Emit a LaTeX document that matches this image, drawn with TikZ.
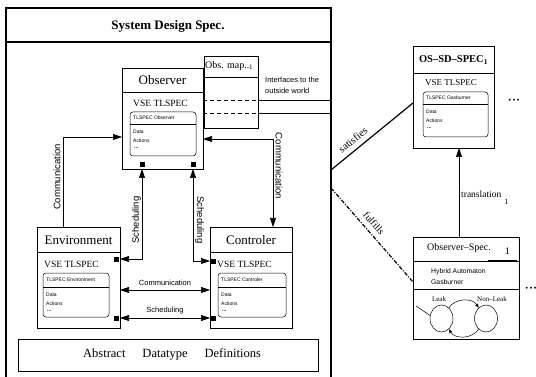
\documentclass[tikz,border=0pt]{standalone}
\usepackage{fontspec}
\setmainfont{Liberation Serif}
\setsansfont{Liberation Sans}
\usetikzlibrary{arrows.meta,shapes.geometric,calc}

\tikzset{
  boxline/.style={draw, line width=0.6pt, inner sep=0pt, outer sep=0pt},
  innerbox/.style={draw, line width=0.5pt, rounded corners=3pt, inner sep=0pt, outer sep=0pt},
  sq/.style={fill=black, minimum size=5pt, inner sep=0pt, outer sep=0pt},
  tip/.style={line width=0.6pt, -{Triangle[length=9pt,width=6pt]}},
  tips/.style={line width=0.6pt, {Triangle[length=9pt,width=6pt]}-{Triangle[length=9pt,width=6pt]}},
  smalltip/.style={line width=0.5pt, -{Triangle[length=4pt,width=3pt]}},
  boxtitle/.style={font=\fontsize{13}{15}\selectfont, inner sep=0pt},
  vse/.style={font=\fontsize{9.5}{11}\selectfont, anchor=west, inner sep=0pt},
  tinytext/.style={font=\sffamily\fontsize{5}{6}\selectfont, anchor=west, inner sep=0pt},
  lab/.style={font=\sffamily\fontsize{7.5}{9}\selectfont, inner sep=0pt},
  vlab/.style={font=\sffamily\fontsize{9.5}{11}\selectfont, inner sep=0pt},
  moredots/.style={font=\sffamily\fontsize{7}{8}\selectfont, inner sep=0pt},
}

% rectangle node given by its corners
\newcommand\mkbox[6][]{%
  \node[#1, minimum width={#5-#3}, minimum height={#6-#4}] (#2) at ({(#3+#5)/2},{(#4+#6)/2}) {};}
% horizontal separator across a box
\newcommand\hsep[3][line width=0.6pt]{%
  \draw[#1] (#2.west |- 0,#3) -- (#2.east |- 0,#3);}
% rounded TLSPEC block with header, Data, Actions, ...
\newcommand\tlspec[7]{%
  \mkbox[innerbox]{#1}{#2}{#3}{#4}{#5}
  \hsep[line width=0.5pt]{#1}{#6}
  \node[tinytext] (#1-h) at (#2+3,{(#3+#6)/2}) {#7};
  \node[tinytext] (#1-d) at (#2+3,#6+7.5) {Data};
  \node[tinytext] (#1-a) at (#2+3,#6+16.5) {Actions};
  \node[tinytext] (#1-e) at (#2+4,#6+24.5) {\bfseries ...};}
\newcommand\threedots{\textbullet\hspace{1.6pt}\textbullet\hspace{1.6pt}\textbullet}

\begin{document}
\begin{tikzpicture}[x=1pt,y=-1pt]
\useasboundingbox (0,0) rectangle (536,377);

% ---- System design specification frame
\node[inner sep=0pt, outer sep=0pt, minimum width=325, minimum height=372] (sys) at (168.5,194) {};
\draw[line width=1.2pt] (sys.south west) -- (sys.north west) -- (sys.north east) -- (sys.south east);
\draw[line width=1.2pt] (sys.west |- 0,42) -- (sys.east |- 0,42);
\node[font=\bfseries\fontsize{13}{15}\selectfont, inner sep=0pt] (systitle) at (168,26) {System Design Spec.};

% ---- Observation map
\mkbox[boxline]{omap}{204}{56}{258}{128}
\hsep{omap}{77}
\node[font=\fontsize{10}{12}\selectfont, anchor=west, inner sep=0pt] (omapT) at (205,66) {Obs. map.\textsubscript{-1}};

% ---- Observer
\mkbox[boxline, fill=white]{obs}{122}{68}{203}{169}
\hsep{obs}{92}
\node[boxtitle] (obsT) at (162.5,80) {Observer};
\node[vse] (obsV) at (133,103) {VSE TLSPEC};
\tlspec{obsIn}{130}{112}{196}{156}{124}{TLSPEC Observer}

% ---- interfaces to the outside world
\coordinate (if1) at (300,100);
\coordinate (if2) at (300,113);
\draw[line width=0.6pt, dash pattern=on 4pt off 3pt] (obs.east |- if1) -- (omap.east |- if1);
\draw[line width=0.6pt, dash pattern=on 4pt off 3pt] (obs.east |- if2) -- (omap.east |- if2);
\draw[line width=0.6pt] (omap.east |- if1) -- (sys.east |- if1);
\draw[line width=0.6pt] (omap.east |- if2) -- (sys.east |- if2);
\node[lab, anchor=west, align=left, font=\sffamily\fontsize{7.5}{11}\selectfont] (ifT) at (265,85.5) {Interfaces to the\\outside world};

% ---- Environment
\mkbox[boxline]{env}{37}{227}{120}{328}
\hsep{env}{252}
\node[boxtitle] (envT) at (78.5,240.5) {Environment};
\node[vse] (envV) at (44,264) {VSE TLSPEC};
\tlspec{envIn}{43}{273}{109}{317}{287}{TLSPEC Environment}

% ---- Controler
\mkbox[boxline]{ctl}{210}{227}{292}{328}
\hsep{ctl}{252}
\node[boxtitle] (ctlT) at (251,240.5) {Controler};
\node[vse] (ctlV) at (217,264) {VSE TLSPEC};
\tlspec{ctlIn}{218}{273}{286}{317}{287}{TLSPEC Controler}

% ---- communication links
\coordinate (cL) at (63,137);
\draw[tip] (cL |- env.north) -- (cL) -- (cL -| obs.west);
\node[vlab, rotate=90] (cLl) at (57,177) {Communication};
\coordinate (cR) at (273,139);
\draw[tips] (cR -| obs.east) -- (cR) -- (cR |- ctl.north);
\node[vlab, rotate=-90] (cRl) at (279,166) {Communication};

% ---- scheduling links
\coordinate (kL) at (142,259);
\coordinate (kR) at (193,261);
\draw[tips] (kL |- obs.south) -- (kL) -- (kL -| env.east);
\draw[tips] (kR |- obs.south) -- (kR) -- (kR -| ctl.west);
\node[vlab, rotate=90] (kLl) at (136.5,220) {Scheduling};
\node[vlab, rotate=-90] (kRl) at (199.5,220) {Scheduling};

\coordinate (bc) at (165,290);
\coordinate (bs) at (165,318);
\draw[tips] (bc -| env.east) -- (bc -| ctl.west);
\draw[tips] (bs -| env.east) -- (bs -| ctl.west);
\node[lab] (bcl) at (165,283) {Communication};
\node[lab] (bsl) at (165,311) {Scheduling};

% ---- scheduling ports
\node[sq, anchor=south, yshift=1.5pt] (sqO1) at (kL |- obs.south) {};
\node[sq, anchor=south, yshift=1.5pt] (sqO2) at (kR |- obs.south) {};
\node[sq, anchor=east, xshift=-1pt] (sqE1) at (kL -| env.east) {};
\node[sq, anchor=east, xshift=-1pt] (sqE2) at (bs -| env.east) {};
\node[sq, anchor=west, xshift=1pt] (sqC1) at (kR -| ctl.west) {};
\node[sq, anchor=west, xshift=1pt] (sqC2) at (bs -| ctl.west) {};

% ---- abstract datatypes
\mkbox[boxline]{adt}{18}{339}{318}{371}
\node[font=\fontsize{12.5}{14}\selectfont, inner sep=0pt] (adtT) at (172,354.5) {Abstract\hspace{17pt}Datatype\hspace{17pt}Definitions};

% ---- OS-SD-SPEC
\mkbox[boxline]{ossd}{413}{46}{494}{148}
\hsep{ossd}{73}
\node[font=\bfseries\fontsize{10.5}{12}\selectfont, inner sep=0pt] (ossdT) at (453.5,60) {OS–SD–SPEC\textsubscript{1}};
\node[vse, font=\fontsize{9}{11}\selectfont] (ossdV) at (425,83) {VSE TLSPEC};
\tlspec{ossdIn}{423}{92}{488}{137}{104}{TLSPEC Gasburner}
\node[moredots] (dots1) at (514,101) {\threedots};

% ---- Observer specification
\mkbox[boxline]{ospec}{413}{237}{519}{339}
\hsep{ospec}{261}
\hsep{ospec}{289}
\draw[line width=1.3pt] (ospec.east |- 0,261) ++(-2,0) coordinate (thk) -- ++(-29,0);
\node[font=\fontsize{10}{12}\selectfont, anchor=base west, inner sep=0pt] (ospecT) at (427,250.5) {Observer–Spec.\hspace{14pt}\raisebox{-4pt}{1}};
\node[font=\sffamily\fontsize{6.8}{11}\selectfont, anchor=west, align=left, inner sep=0pt] (hyb) at (431,276.5) {Hybrid Automaton\\Gasburner};
\node[moredots] (dots2) at (531,289) {\threedots};

% ---- automaton
\node[draw, ellipse, line width=0.5pt, minimum width=23pt, minimum height=27pt, inner sep=0pt] (leak) at (441.5,318.5) {};
\node[draw, ellipse, line width=0.5pt, minimum width=23pt, minimum height=27pt, inner sep=0pt] (nonleak) at (486,318.5) {};
\node[font=\fontsize{7}{8}\selectfont, inner sep=0pt] (leakL) at (439,299.5) {Leak};
\node[font=\fontsize{7}{8}\selectfont, inner sep=0pt] (nonleakL) at (492,299.5) {Non–Leak};
\draw[smalltip] (leak.55) to[out=60, in=120] (nonleak.125);
\draw[smalltip] (nonleak.-125) to[out=-120, in=-60] (leak.-55);
\coordinate (init) at (416,306);
\draw[line width=0.5pt] (init) -- (leak.165);

% ---- relations to the right
\coordinate (satA) at (sys.east |- 0,170);
\draw[line width=1.2pt] (satA) -- ([yshift=-6pt]ossd.west)
  node[sloped, above=5pt, pos=0.34, font=\fontsize{10.5}{12}\selectfont, inner sep=0pt] (satL) {satisfies};
\coordinate (fulA) at (sys.east |- 0,188);
\draw[line width=1.2pt, dash pattern=on 4pt off 1.5pt on 1pt off 1.5pt] (fulA) -- ([yshift=6pt]ospec.west)
  node[sloped, above=5pt, pos=0.44, font=\fontsize{10}{12}\selectfont, inner sep=0pt] (fulL) {fulfills};
\coordinate (tr) at (459,190);
\draw[tip] (tr |- ospec.north) -- (tr |- ossd.south);
\node[font=\fontsize{9.5}{11}\selectfont, anchor=base west, inner sep=0pt] (trL) at (461,197.5) {translation\hspace{3pt}\raisebox{-7pt}{\footnotesize 1}};

\end{tikzpicture}
\end{document}
